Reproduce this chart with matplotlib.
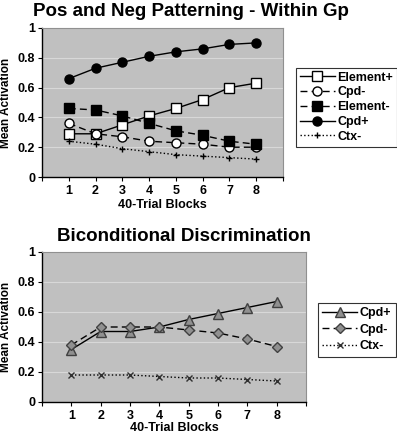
import matplotlib
matplotlib.use("Agg")
import matplotlib.pyplot as plt

plt.rcParams['font.family'] = ['Liberation Sans', 'DejaVu Sans']
plt.rcParams['font.weight'] = 'bold'

blocks = [1, 2, 3, 4, 5, 6, 7, 8]

# Top panel
top_title = "Pos and Neg Patterning - Within Gp"
element_plus = [0.29, 0.29, 0.35, 0.41, 0.46, 0.52, 0.60, 0.63]
cpd_minus_top = [0.36, 0.29, 0.27, 0.24, 0.23, 0.22, 0.20, 0.20]
element_minus = [0.46, 0.45, 0.41, 0.36, 0.31, 0.28, 0.24, 0.22]
cpd_plus_top = [0.66, 0.73, 0.77, 0.81, 0.84, 0.86, 0.89, 0.90]
ctx_minus_top = [0.24, 0.22, 0.19, 0.17, 0.15, 0.14, 0.13, 0.12]

# Bottom panel
bot_title = "Biconditional Discrimination"
cpd_plus_bot = [0.35, 0.47, 0.47, 0.50, 0.55, 0.59, 0.63, 0.67]
cpd_minus_bot = [0.38, 0.50, 0.50, 0.50, 0.48, 0.46, 0.42, 0.37]
ctx_minus_bot = [0.18, 0.18, 0.18, 0.17, 0.16, 0.16, 0.15, 0.14]

yticks = [0, 0.2, 0.4, 0.6, 0.8, 1]
ytick_labels = ["0", "0.2", "0.4", "0.6", "0.8", "1"]

fig = plt.figure(figsize=(3.97, 4.33), dpi=100)
ax1 = fig.add_axes([42/397, 1-177/433, 241/397, 149/433])
ax2 = fig.add_axes([42/397, 1-402/433, 264/397, 150/433])

def style(ax, xpad, lpad):
    ax.set_facecolor('#c0c0c0')
    ax.set_xlim(0, 9)
    ax.set_ylim(0, 1)
    ax.set_yticks(yticks)
    ax.set_yticklabels(ytick_labels, fontsize=9, fontweight='bold')
    ax.set_xticks(range(0, 10))
    ax.set_xticklabels([""] + [str(b) for b in blocks] + [""], fontsize=9, fontweight='bold')
    ax.tick_params(axis='both', length=3, width=0.8, direction='out', pad=2)
    ax.tick_params(axis='x', pad=xpad)
    for y in yticks[1:-1]:
        ax.axhline(y, color='#d8d8d8', lw=0.8, zorder=0.5)
    for s in ['top', 'right']:
        ax.spines[s].set_color('#909090')
    for s in ['left', 'bottom']:
        ax.spines[s].set_color('black')
        ax.spines[s].set_linewidth(1.0)
    ax.set_xlabel("40-Trial Blocks", fontsize=9, fontweight='bold', labelpad=lpad)
    ax.set_ylabel("Mean Activation", fontsize=8.5, fontweight='bold', labelpad=4)

style(ax1, 3, 1)
style(ax2, 2.5, 0)
fig.text(191/397, 1-3/433, top_title, fontsize=13.5, fontweight='bold', ha='center', va='top')
fig.text(184/397, 1-228/433, bot_title, fontsize=13.5, fontweight='bold', ha='center', va='top')

ms = 6.5
l1, = ax1.plot(blocks, element_plus, '-', color='black', lw=1, marker='s', mfc='white', mec='black', ms=ms, label='Element+')
l2, = ax1.plot(blocks, cpd_minus_top, '--', color='black', lw=1, dashes=(5, 3), marker='o', mfc='white', mec='black', ms=ms, label='Cpd-')
l3, = ax1.plot(blocks, element_minus, '--', color='black', lw=1, dashes=(5, 3), marker='s', mfc='black', mec='black', ms=ms, label='Element-')
l4, = ax1.plot(blocks, cpd_plus_top, '-', color='black', lw=1, marker='o', mfc='black', mec='black', ms=ms, label='Cpd+')
l5, = ax1.plot(blocks, ctx_minus_top, ':', color='black', lw=1, marker='+', mec='black', ms=5, label='Ctx-')

leg1 = ax1.legend(handles=[l1, l2, l3, l4, l5], loc='upper left', bbox_to_anchor=(296/397, 1-68/433),
                  bbox_transform=fig.transFigure, frameon=True, fancybox=False, edgecolor='black',
                  fontsize=9, handlelength=2.8, handletextpad=0.2, borderpad=0.3, labelspacing=0.22,
                  borderaxespad=0)
leg1.get_frame().set_linewidth(0.8)
for t in leg1.get_texts():
    t.set_fontweight('bold')

gray = '#909090'
m1, = ax2.plot(blocks, cpd_plus_bot, '-', color='black', lw=1, marker='^', mfc=gray, mec='#404040', ms=ms, label='Cpd+')
m2, = ax2.plot(blocks, cpd_minus_bot, '--', color='black', lw=1, dashes=(5, 3), marker='D', mfc=gray, mec='#404040', ms=5.5, label='Cpd-')
m3, = ax2.plot(blocks, ctx_minus_bot, ':', color='black', lw=1, marker='x', mec='#303030', ms=4, label='Ctx-')

leg2 = ax2.legend(handles=[m1, m2, m3], loc='upper left', bbox_to_anchor=(318/397, 1-303/433),
                  bbox_transform=fig.transFigure, frameon=True, fancybox=False, edgecolor='black',
                  fontsize=9, handlelength=2.8, handletextpad=0.2, borderpad=0.35, labelspacing=0.35,
                  borderaxespad=0)
leg2.get_frame().set_linewidth(0.8)
for t in leg2.get_texts():
    t.set_fontweight('bold')

fig.savefig("out.png", dpi=100, facecolor='white')
